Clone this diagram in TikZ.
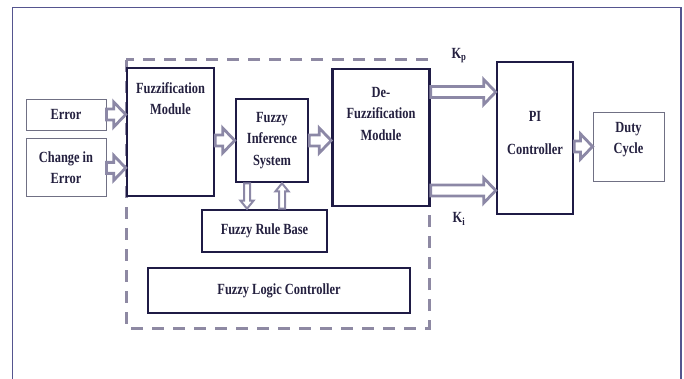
\documentclass[tikz,border=0pt]{standalone}
\usepackage{fontspec}
\newfontfamily\diagfont[FakeStretch=0.8]{Liberation Serif}
\usetikzlibrary{positioning, calc}

\definecolor{boxnavy}{HTML}{1F1B45}
\definecolor{arrowgrey}{HTML}{8C88A6}
\definecolor{dashgrey}{HTML}{8E89A3}
\definecolor{framenavy}{HTML}{55558F}
\definecolor{thingrey}{HTML}{707084}
\definecolor{textnavy}{HTML}{24203F}

\tikzset{
  ba shaft/.initial=5.5pt,
  ba head/.initial=12.5pt,
  ba len/.initial=12pt
}

\begin{document}
\begin{tikzpicture}[x=1pt, y=-1pt,
    every node/.style={font=\diagfont\bfseries\fontsize{15.5}{21.5}\selectfont, text=textnavy},
    module/.style={draw=boxnavy, line width=2.6pt, fill=white, align=center, inner sep=0pt},
    iobox/.style={draw=thingrey, line width=0.9pt, fill=white, align=center, inner sep=0pt},
    toptext/.style={anchor=north, align=center, yshift=-12pt},
    midtext/.style={anchor=center, align=center, yshift=5pt},
    flcbound/.style={draw=dashgrey, line width=3pt, dash pattern=on 12pt off 9pt},
    blockarrow/.style={draw=arrowgrey, fill=white, line width=2.8pt, line join=miter,
      to path={($(\tikztotarget)!\pgfkeysvalueof{/tikz/ba len}!(\tikztostart)$) coordinate (ba-h)
        ($(\tikztostart)!\pgfkeysvalueof{/tikz/ba shaft}!90:(\tikztotarget)$)
        -- ($(ba-h)!\pgfkeysvalueof{/tikz/ba shaft}!90:(\tikztotarget)$)
        -- ($(ba-h)!\pgfkeysvalueof{/tikz/ba head}!90:(\tikztotarget)$)
        -- (\tikztotarget)
        -- ($(ba-h)!\pgfkeysvalueof{/tikz/ba head}!-90:(\tikztotarget)$)
        -- ($(ba-h)!\pgfkeysvalueof{/tikz/ba shaft}!-90:(\tikztotarget)$)
        -- ($(\tikztostart)!\pgfkeysvalueof{/tikz/ba shaft}!-90:(\tikztotarget)$) -- cycle}},
    smallarrow/.style={blockarrow, line width=2pt, ba shaft=3pt, ba head=6.5pt, ba len=8pt}
]

    \useasboundingbox (0,0) rectangle (684,379);

    % Page frame
    \draw[framenavy, line width=1.8pt] (12.5,379) |- (681,7.5) -- (681,379);

    % Fuzzy logic controller boundary
    \draw[flcbound] (126,60) rectangle (429,328);

    % Inputs
    \node[iobox, minimum width=80pt, minimum height=31pt] (err) at (66,114.5) {Error};
    \node[iobox, minimum width=80pt, minimum height=58pt, below=8pt of err] (chg) {Change in\\Error};

    % Fuzzy modules
    \node[module, minimum width=87pt, minimum height=128pt,
          label={[toptext]north:{Fuzzification\\Module}}] (fuzz) at (170.5,132) {};
    \node[module, minimum width=72pt, minimum height=83pt] (fis) at (272,140.5) {Fuzzy\\Inference\\System};
    \node[module, minimum width=125pt, minimum height=42pt] (rule) at (264.5,231) {Fuzzy Rule Base};
    \node[module, minimum width=97pt, minimum height=137pt,
          label={[toptext, yshift=-4pt]north:{De-\\Fuzzification\\Module}}] (defz) at (381,137.5) {};
    \node[module, minimum width=262pt, minimum height=45pt] (flc) at (279,290.5) {Fuzzy Logic Controller};

    % PI stage
    \node[module, minimum width=76pt, minimum height=152pt,
          label={[midtext]center:{PI\\[11pt]Controller}}] (pi) at (535,138) {};
    \node[iobox, minimum width=71pt, minimum height=69pt,
          label={[midtext, yshift=2pt]center:{Duty\\Cycle}}] (duty) at (628.5,146.5) {};

    % Arrow ends
    \coordinate (errin) at (fuzz.west |- err.east);
    \coordinate (chgin) at (fuzz.west |- chg.east);
    \coordinate (fuzzout) at (fuzz.east |- fis.west);
    \coordinate (defzin) at (defz.west |- fis.east);
    \coordinate (kp) at ([yshift=45.5pt]defz.east);
    \coordinate (ki) at ([yshift=-53pt]defz.east);
    \coordinate (kpin) at (pi.west |- kp);
    \coordinate (kiin) at (pi.west |- ki);
    \coordinate (piout) at (pi.east |- duty.west);
    \coordinate (fisdown) at ([xshift=-25pt]fis.south);
    \coordinate (ruledown) at (rule.north -| fisdown);
    \coordinate (fisup) at ([xshift=10pt]fis.south);
    \coordinate (ruleup) at (rule.north -| fisup);

    % Connectors
    \draw[blockarrow] (err.east) to (errin);
    \draw[blockarrow] (chg.east) to (chgin);
    \draw[blockarrow] (fuzzout) to (fis.west);
    \draw[blockarrow] (fis.east) to (defzin);
    \draw[blockarrow] (kp) to (kpin);
    \draw[blockarrow] (ki) to (kiin);
    \draw[blockarrow] (piout) to (duty.west);
    \draw[smallarrow] (fisdown) to (ruledown);
    \draw[smallarrow] (ruleup) to (fisup);

    % Gains
    \node (kplabel) at (459,56) {K\textsubscript{p}};
    \node (kilabel) at (459,219) {K\textsubscript{i}};

\end{tikzpicture}
\end{document}
